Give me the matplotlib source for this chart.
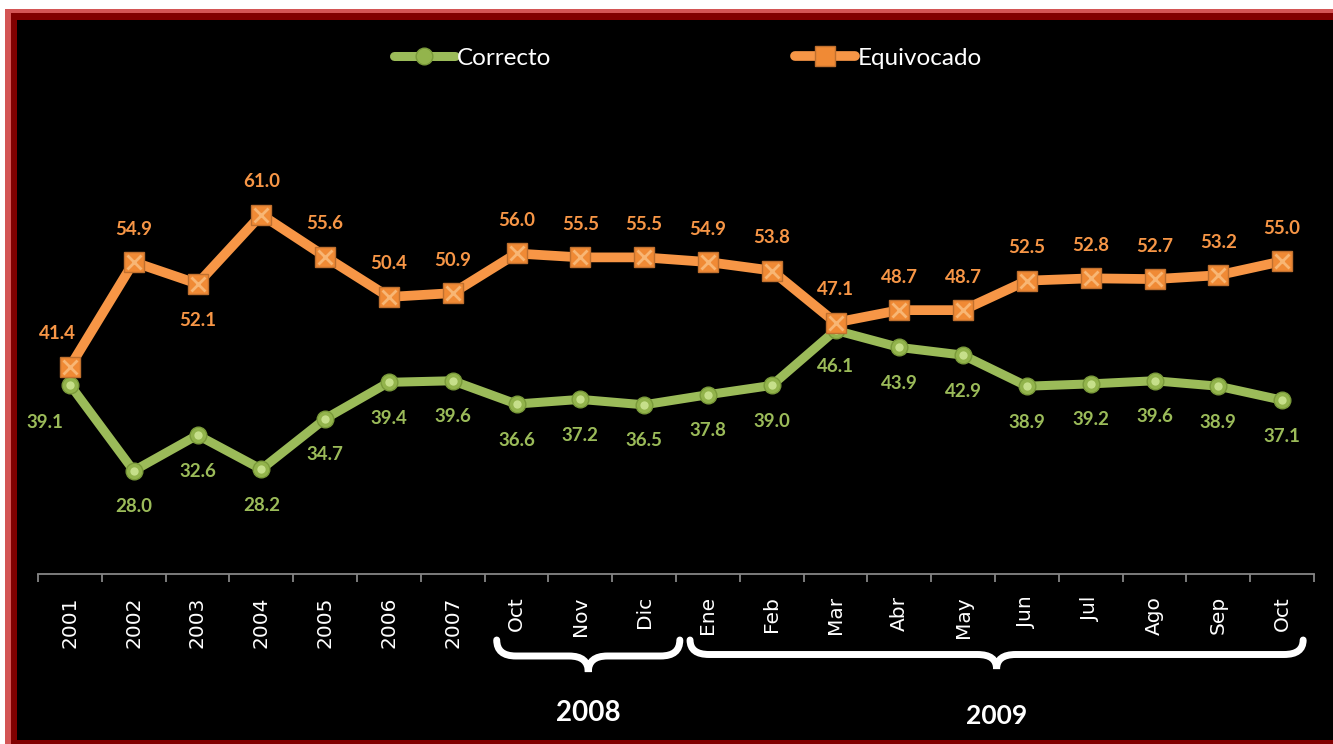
import matplotlib
matplotlib.use('Agg')
import matplotlib.pyplot as plt
import matplotlib.transforms as mtransforms
from matplotlib.path import Path
from matplotlib.patches import PathPatch, Rectangle

labels = ['2001', '2002', '2003', '2004', '2005', '2006', '2007',
          'Oct', 'Nov', 'Dic',
          'Ene', 'Feb', 'Mar', 'Abr', 'May', 'Jun', 'Jul', 'Ago', 'Sep', 'Oct']
correcto = [39.1, 28.0, 32.6, 28.2, 34.7, 39.4, 39.6, 36.6, 37.2, 36.5,
            37.8, 39.0, 46.1, 43.9, 42.9, 38.9, 39.2, 39.6, 38.9, 37.1]
equivocado = [41.4, 54.9, 52.1, 61.0, 55.6, 50.4, 50.9, 56.0, 55.5, 55.5,
              54.9, 53.8, 47.1, 48.7, 48.7, 52.5, 52.8, 52.7, 53.2, 55.0]
groups = ['2008', '2009']

W, H = 1333, 744
GREEN = '#9bbb59'
ORANGE = '#f79646'

fig = plt.figure(figsize=(W / 100, H / 100), dpi=100)
fig.patch.set_facecolor('white')

# pixel coords (y down) -> figure
px = mtransforms.Affine2D().scale(1 / W, -1 / H).translate(0, 1) + fig.transFigure


def frame(x0, y0, x1, y1, color):
    fig.add_artist(Rectangle((x0, y1), x1 - x0, y0 - y1, transform=px,
                             facecolor=color, edgecolor='none', zorder=0))


frame(5, 9, W + 10, H + 10, '#d35555')
frame(11, 13, W + 10, H + 10, '#800000')
frame(17, 20, W + 10, 740, 'black')

ax = fig.add_axes([38 / W, 1 - 574 / H, (1314 - 38) / W, (574 - 30) / H])
ax.set_facecolor('none')
x = list(range(len(labels)))

ax.plot(x, correcto, color=GREEN, lw=6.5, solid_capstyle='round', zorder=3,
        marker='o', ms=12, mfc='#93b44c', mec='#7a9a3a', mew=1.0, label='Correcto')
ax.plot(x, correcto, ls='none', marker='o', ms=6, mfc='#d4ea9a', mec='none',
        alpha=0.8, zorder=3.5)
ax.plot(x, equivocado, color=ORANGE, lw=7, solid_capstyle='round', zorder=4,
        marker='s', ms=14, mfc='#f08a35', mec='#c0702e', mew=1.0, label='Equivocado')
ax.plot(x, equivocado, ls='none', marker='x', ms=10, mew=2, mec='#fcc98f',
        alpha=0.7, zorder=4.5)

ax.set_xlim(-0.5, len(labels) - 0.5)
ax.set_ylim(14.7, 84.8)

for i, v in enumerate(equivocado):
    dx, dy = 0, 33
    if i == 0:
        dx = -12
    if i == 2:
        dy = -37
    ax.annotate(f'{v:.1f}', (i, v), xytext=(dx, dy), textcoords='offset pixels',
                ha='center', va='center', color=ORANGE, fontsize=13.5,
                fontweight='bold', family='Lato', zorder=5)

for i, v in enumerate(correcto):
    dx, dy = 0, -36
    if i == 0:
        dx, dy = -25, -38
    ax.annotate(f'{v:.1f}', (i, v), xytext=(dx, dy), textcoords='offset pixels',
                ha='center', va='center', color=GREEN, fontsize=13.5,
                fontweight='bold', family='Lato', zorder=5)

for s in ['top', 'left', 'right']:
    ax.spines[s].set_visible(False)
ax.spines['bottom'].set_color('#868686')
ax.spines['bottom'].set_linewidth(1.3)
ax.set_yticks([])
ax.set_xticks(x)
ax.set_xticklabels(labels, rotation=90, color='white', fontsize=14.5,
                   family='DejaVu Sans')
ax.tick_params(axis='x', which='major', length=0, pad=16)
ax.set_xticks([i - 0.5 for i in range(len(labels) + 1)], minor=True)
ax.tick_params(axis='x', which='minor', length=6, width=1.3, color='#868686')

leg = fig.legend(loc='center', bbox_to_anchor=(688 / W, 1 - 58 / H), ncol=2,
                 frameon=False, handlelength=2.5, handletextpad=0.1,
                 columnspacing=10, numpoints=1,
                 prop={'family': 'Lato', 'size': 17.5})
for t in leg.get_texts():
    t.set_color('white')

# braces under the month labels
bt = mtransforms.blended_transform_factory(ax.transData, px)


def brace(x0, x1, ytop, h, r):
    xm = (x0 + x1) / 2
    ym = ytop + h / 2
    verts = [(x0, ytop), (x0, ym), (x0 + r, ym),
             (xm - r, ym),
             (xm, ym), (xm, ytop + h),
             (xm, ym), (xm + r, ym),
             (x1 - r, ym),
             (x1, ym), (x1, ytop)]
    codes = [Path.MOVETO, Path.CURVE3, Path.CURVE3,
             Path.LINETO,
             Path.CURVE3, Path.CURVE3,
             Path.CURVE3, Path.CURVE3,
             Path.LINETO,
             Path.CURVE3, Path.CURVE3]
    fig.add_artist(PathPatch(Path(verts, codes), transform=bt, fill=False,
                             edgecolor='white', lw=5, capstyle='round',
                             zorder=6))
    return xm


m1 = brace(6.69, 9.56, 640, 32, 0.3)
m2 = brace(9.72, 19.33, 640, 29, 0.3)
fig.text(m1, 713, groups[0], transform=bt, ha='center', va='center',
         color='white', fontsize=20, fontweight='bold', family='Lato')
fig.text(m2, 716, groups[1], transform=bt, ha='center', va='center',
         color='white', fontsize=19, fontweight='bold', family='Lato')

fig.savefig('out.png', dpi=100, facecolor=fig.get_facecolor())
